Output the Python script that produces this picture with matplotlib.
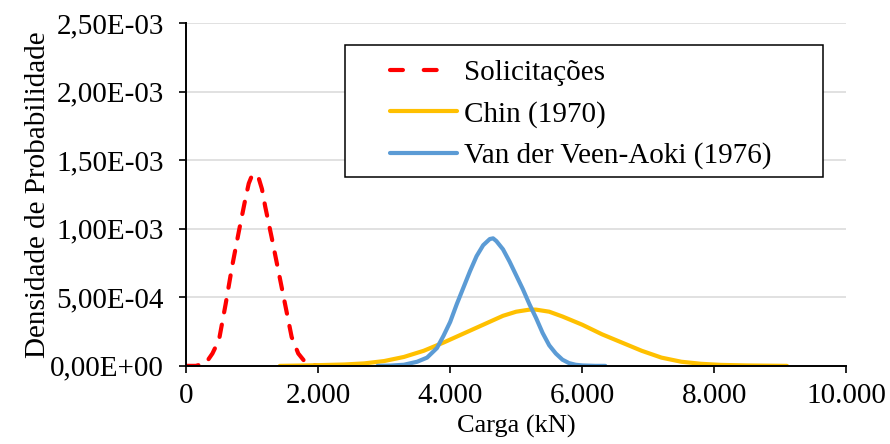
import numpy as np
import matplotlib
matplotlib.use("Agg")
import matplotlib.pyplot as plt
from matplotlib.ticker import FuncFormatter, MultipleLocator
from matplotlib.patches import Rectangle
from matplotlib.lines import Line2D

plt.rcParams['font.family'] = ['Liberation Serif', 'DejaVu Serif']
plt.rcParams['font.size'] = 21

# Solicitações (load) - density
sol_x = [0, 150, 300, 400, 500, 600, 700, 800, 900, 950, 1000, 1050, 1100,
         1150, 1200, 1300, 1400, 1500, 1600, 1700, 1800, 1900, 2000]
sol_y = [0, 0, 0.02, 0.09, 0.19, 0.45, 0.73, 0.98, 1.22, 1.33, 1.39, 1.40, 1.37,
         1.29, 1.16, 0.93, 0.69, 0.45, 0.21, 0.09, 0.03, 0.008, 0]

# Chin (1970)
chin_x = [1420, 1800, 2000, 2400, 2700, 3000, 3300, 3600, 3900, 4200, 4500, 4800,
          5000, 5200, 5300, 5500, 5700, 6000, 6300, 6600, 6900, 7200, 7500, 7800,
          8100, 8500, 9100]
chin_y = [0, 0.003, 0.005, 0.01, 0.018, 0.035, 0.065, 0.11, 0.17, 0.235, 0.30, 0.365,
          0.395, 0.41, 0.41, 0.395, 0.36, 0.30, 0.23, 0.17, 0.11, 0.06, 0.03, 0.015,
          0.007, 0.003, 0]

# Van der Veen-Aoki (1976)
vva_x = [2900, 3100, 3300, 3500, 3650, 3800, 3900, 4000, 4100, 4200, 4300, 4400, 4500,
         4600, 4650, 4700, 4800, 4900, 5000, 5100, 5200, 5300, 5400, 5500, 5600, 5700,
         5800, 5900, 6000, 6200, 6350]
vva_y = [0, 0.002, 0.008, 0.03, 0.06, 0.13, 0.22, 0.32, 0.45, 0.57, 0.69, 0.80, 0.88,
         0.925, 0.93, 0.91, 0.85, 0.76, 0.66, 0.56, 0.45, 0.35, 0.24, 0.15, 0.09, 0.045,
         0.02, 0.008, 0.003, 0, 0]

colors = ['#FF0000', '#FFC000', '#5B9BD5']
labels = ['Solicitações', 'Chin (1970)', 'Van der Veen-Aoki (1976)']

fig = plt.figure(figsize=(8.9, 4.44), dpi=100)
ax = fig.add_axes([0.209, 0.176, 0.742, 0.772])

lw = 3.0
ax.plot(sol_x, np.array(sol_y) * 1e-3, color=colors[0], lw=lw, ls=(0, (3, 3)),
        dash_capstyle='round', zorder=3)
ax.plot(chin_x, np.array(chin_y) * 1e-3, color=colors[1], lw=lw,
        solid_capstyle='round', zorder=3)
ax.plot(vva_x, np.array(vva_y) * 1e-3, color=colors[2], lw=lw,
        solid_capstyle='round', zorder=3)

ax.set_xlim(0, 10000)
ax.set_ylim(0, 2.5e-3)
ax.xaxis.set_major_locator(MultipleLocator(2000))
ax.yaxis.set_major_locator(MultipleLocator(5e-4))
ax.xaxis.set_major_formatter(FuncFormatter(lambda v, p: f"{int(round(v)):,}".replace(',', '.')))
ax.yaxis.set_major_formatter(FuncFormatter(lambda v, p: f"{v:.2E}".replace('.', ',')))

ax.grid(axis='y', color='#D9D9D9', lw=1.1)
ax.set_axisbelow(True)
for s in ['top', 'right']:
    ax.spines[s].set_visible(False)
for s in ['left', 'bottom']:
    ax.spines[s].set_linewidth(1.4)
    ax.spines[s].set_zorder(4)
ax.tick_params(axis='both', direction='out', length=5, width=1.2, labelsize=21)
ax.tick_params(axis='y', pad=11)
ax.tick_params(axis='x', pad=7)

ax.set_xlabel('Carga (kN)', fontsize=19, va='top')
ax.set_ylabel('Densidade de Probabilidade', fontsize=21)
ax.xaxis.set_label_coords(0.5, -0.142)
ax.yaxis.set_label_coords(-0.205, 0.5)

# legend box
ax.add_patch(Rectangle((0.241, 0.551), 0.724, 0.385, transform=ax.transAxes,
                       fill=True, facecolor='white', edgecolor='black', lw=1.1, zorder=5))
handles = [Line2D([], [], color=colors[0], lw=lw, ls=(0, (3.1, 5)), dash_capstyle='round'),
           Line2D([], [], color=colors[1], lw=lw, solid_capstyle='round'),
           Line2D([], [], color=colors[2], lw=lw, solid_capstyle='round')]
leg = ax.legend(handles, labels, loc='upper left', bbox_to_anchor=(0.309, 0.893),
                frameon=False, handlelength=2.3, handletextpad=0.25, labelspacing=0.5,
                borderpad=0.0, borderaxespad=0.0, fontsize=21)
leg.set_zorder(6)

fig.savefig('out.png', dpi=100)
